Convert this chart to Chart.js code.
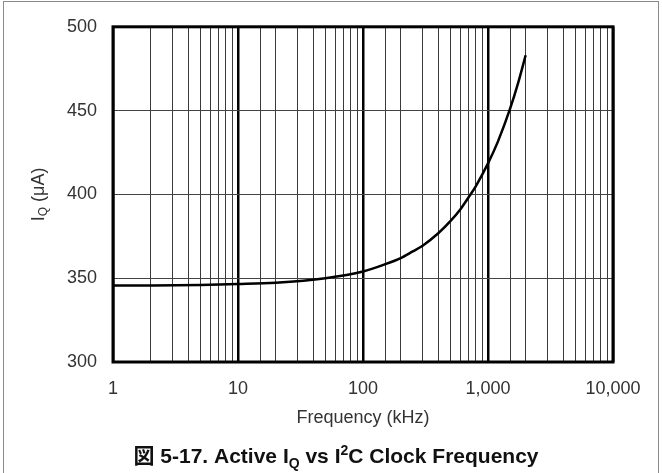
<!DOCTYPE html>
<html>
<head>
<meta charset="utf-8">
<script src="https://cdn.jsdelivr.net/npm/chart.js@4.4.0/dist/chart.umd.min.js"></script>
<style>
  body { margin: 0; background: #fff; }
  #wrap { position: relative; width: 662px; height: 473px; overflow: hidden; }
  #frame { position: absolute; left: 3px; top: 1px; width: 654px; height: 500px;
           border: 1px solid #8a8a8a; border-bottom: none; }
  canvas { position: absolute; left: 0; top: 0; }
  #caption { position: absolute; left: 0; width: 672px; top: 439px; text-align: center;
             font: bold 21px "Liberation Sans", Arial, "Noto Sans CJK JP", sans-serif; color: #111; }
  #caption sub, #caption sup { font-size: 14px; line-height: 0; }
</style>
</head>
<body>
<div id="wrap">
  <div id="frame"></div>
  <canvas id="myChart" width="662" height="473"></canvas>
  <div id="caption">図 5-17. Active I<sub>Q</sub> vs I<sup>2</sup>C Clock Frequency</div>
</div>
<script>
var freq_khz = [1, 2, 5, 10, 20, 50, 100, 150, 200, 250, 300, 400, 500, 600, 700, 800, 1000, 1200, 1500, 1750, 2000];
var iq_ua = [345.6, 345.7, 346.0, 346.5, 347.3, 350.0, 354.0, 358.3, 362.0, 366.0, 369.4, 376.8, 384.0, 391.0, 398.3, 405.0, 418.5, 431.5, 451.0, 467.0, 483.0];
var y_ticks = [300, 350, 400, 450, 500];
var x_decades = [1, 10, 100, 1000, 10000];

var points = [];
for (var i = 0; i < freq_khz.length; i++) {
  points.push({x: freq_khz[i], y: iq_ua[i]});
}

function isDecade(v) {
  return x_decades.indexOf(v) >= 0;
}

var labelFont = {family: "'Liberation Sans', Arial, sans-serif", size: 18};

var frameAndTitles = {
  id: 'frameAndTitles',
  afterDraw: function(chart) {
    var c = chart.ctx, a = chart.chartArea;
    c.save();
    c.strokeStyle = '#000';
    c.lineWidth = 3;
    c.strokeRect(a.left, a.top, a.right - a.left, a.bottom - a.top);

    c.fillStyle = '#333';
    c.font = "18px 'Liberation Sans', Arial, sans-serif";
    c.textBaseline = 'middle';
    c.textAlign = 'center';
    c.fillText('Frequency (kHz)', (a.left + a.right) / 2, 418);

    // y title with subscript
    c.translate(39, (a.top + a.bottom) / 2);
    c.rotate(-Math.PI / 2);
    var big = "18px 'Liberation Sans', Arial, sans-serif";
    var small = "12px 'Liberation Sans', Arial, sans-serif";
    c.font = big; var w1 = c.measureText('I').width; var w3 = c.measureText(' (\u03bcA)').width;
    c.font = small; var w2 = c.measureText('Q').width;
    var x0 = -(w1 + w2 + w3) / 2;
    c.textAlign = 'left';
    c.font = big; c.fillText('I', x0, 0);
    c.font = small; c.fillText('Q', x0 + w1, 5);
    c.font = big; c.fillText(' (\u03bcA)', x0 + w1 + w2, 0);
    c.restore();
  }
};

var ctx = document.getElementById("myChart");
var myChart = new Chart(ctx, {
  type: 'line',
  data: {
    datasets: [{
      data: points,
      borderColor: '#000',
      borderWidth: 2.5,
      pointRadius: 0,
      fill: false,
      cubicInterpolationMode: 'monotone'
    }]
  },
  options: {
    responsive: false,
    animation: false,
    layout: {padding: {top: 23, right: 49, bottom: 71, left: 0}},
    plugins: {legend: {display: false}, tooltip: {enabled: false}},
    scales: {
      x: {
        type: 'logarithmic',
        min: 1,
        max: 10000,
        afterFit: function(s) { s.height = 40; },
        border: {display: false},
        grid: {
          drawTicks: false,
          color: function(c) { return isDecade(c.tick.value) ? '#000' : '#3a3a3a'; },
          lineWidth: function(c) { return isDecade(c.tick.value) ? 2.5 : 1; }
        },
        ticks: {
          autoSkip: false,
          maxRotation: 0,
          padding: 16,
          color: '#333',
          font: labelFont,
          callback: function(v) { return isDecade(v) ? v.toLocaleString('en-US') : ''; }
        }
      },
      y: {
        min: 300,
        max: 500,
        afterFit: function(s) { s.width = 113; },
        afterBuildTicks: function(s) { s.ticks = y_ticks.map(function(v) { return {value: v}; }); },
        border: {display: false},
        grid: {drawTicks: false, color: '#444', lineWidth: 1},
        ticks: {padding: 16, color: '#333', font: labelFont}
      }
    }
  },
  plugins: [frameAndTitles]
});
</script>
</body>
</html>
